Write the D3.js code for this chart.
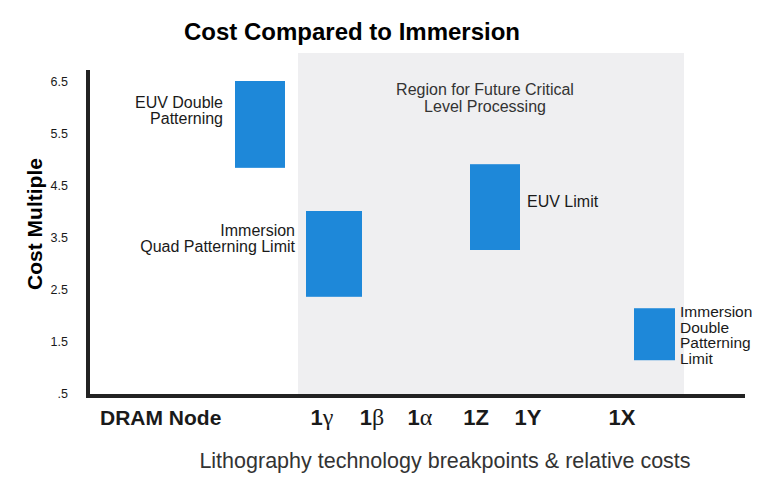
<!DOCTYPE html>
<html lang="en">
<head>
  <meta charset="UTF-8">
  <title>Cost Compared to Immersion</title>
  <style>
    * { margin: 0; padding: 0; }
    body { background: #fff; font-family: "Liberation Sans", Arial, sans-serif; }
    svg text { fill: #1a1a1a; }
  </style>
</head>
<body>
  <svg id="svg"></svg>
  <script src="https://cdnjs.cloudflare.com/ajax/libs/d3/7.8.5/d3.min.js"></script>
  <script>
    // values
    const yTicks = [0.5, 1.5, 2.5, 3.5, 4.5, 5.5, 6.5];
    const nodeLabels = ['1γ', '1β', '1α', '1Z', '1Y', '1X'];
    const nodePos = [4.68, 5.68, 6.64, 7.76, 8.8, 10.68];

    const barNames = ['EUV Double Patterning', 'Immersion Quad Patterning Limit', 'EUV Limit', 'Immersion Double Patterning Limit'];
    const barStart = [2.94, 4.36, 7.64, 10.92];
    const barEnd = [3.94, 5.48, 8.64, 11.74];
    const barLow = [4.83, 2.35, 3.25, 1.13];
    const barHigh = [6.5, 4.0, 4.9, 2.13];

    const regionStart = 4.2, regionEnd = 11.92;

    const width = 777, height = 477;
    const svg = d3.select('#svg').attr('width', width).attr('height', height);

    const x = d3.scaleLinear().domain([0, 11.9]).range([88, 683]);
    const y = d3.scaleLinear().domain([0.5, 6.5]).range([393, 81]);

    // shaded future region
    svg.append('rect')
      .attr('x', x(regionStart))
      .attr('y', 53)
      .attr('width', x(regionEnd) - x(regionStart))
      .attr('height', 396 - 53)
      .attr('fill', '#efeff1');

    svg.append('text')
      .attr('x', 485).attr('y', 95)
      .attr('text-anchor', 'middle')
      .style('font-size', '16px')
      .style('fill', '#333')
      .selectAll('tspan')
      .data(['Region for Future Critical', 'Level Processing'])
      .join('tspan')
      .attr('x', 485)
      .attr('dy', (d, i) => i ? 17 : 0)
      .text(d => d);

    // bars
    svg.append('g')
      .selectAll('rect')
      .data(barNames)
      .join('rect')
      .attr('x', (d, i) => x(barStart[i]))
      .attr('width', (d, i) => x(barEnd[i]) - x(barStart[i]))
      .attr('y', (d, i) => y(barHigh[i]))
      .attr('height', (d, i) => y(barLow[i]) - y(barHigh[i]))
      .attr('fill', '#1e88d9');

    // bar labels
    const labelLines = [
      ['EUV Double', 'Patterning'],
      ['Immersion', 'Quad Patterning Limit'],
      ['EUV Limit'],
      ['Immersion', 'Double', 'Patterning', 'Limit']
    ];
    const labelCfg = [
      { x: 223, y: 108, anchor: 'end', lh: 16, fs: 16 },
      { x: 295, y: 236, anchor: 'end', lh: 16, fs: 16 },
      { x: 527, y: 207, anchor: 'start', lh: 16, fs: 16 },
      { x: 680, y: 317, anchor: 'start', lh: 15.5, fs: 15.5 }
    ];
    labelLines.forEach((lines, i) => {
      const c = labelCfg[i];
      svg.append('text')
        .attr('x', c.x).attr('y', c.y)
        .attr('text-anchor', c.anchor)
        .style('font-size', c.fs + 'px')
        .selectAll('tspan')
        .data(lines)
        .join('tspan')
        .attr('x', c.x)
        .attr('dy', (d, j) => j ? c.lh : 0)
        .text(d => d);
    });

    // y axis
    const yAxis = svg.append('g')
      .attr('transform', 'translate(70,0)')
      .call(d3.axisLeft(y).tickValues(yTicks).tickSize(0)
        .tickFormat(d => d < 1 ? '.5' : d3.format('.1f')(d)));
    yAxis.select('.domain').remove();
    yAxis.selectAll('text')
      .attr('x', -2)
      .style('font-size', '12.5px')
      .style('font-family', '"Liberation Sans", Arial, sans-serif')
      .style('fill', '#1a1a1a');

    // axis lines
    svg.append('path')
      .attr('d', `M88,70 V396 H745`)
      .attr('fill', 'none')
      .attr('stroke', '#222')
      .attr('stroke-width', 4);

    // x node labels
    svg.append('text')
      .attr('x', 100).attr('y', 425)
      .style('font-size', '21px')
      .style('font-weight', 'bold')
      .text('DRAM Node');

    const nodeText = svg.append('g')
      .selectAll('text')
      .data(nodeLabels)
      .join('text')
      .attr('x', (d, i) => x(nodePos[i]))
      .attr('y', 425)
      .attr('text-anchor', 'middle')
      .style('font-size', '22px')
      .style('font-weight', 'bold');
    nodeText.append('tspan').text(d => d[0]);
    nodeText.append('tspan')
      .style('font-family', d => /[A-Z]/.test(d[1]) ? null : '"Liberation Serif", serif')
      .style('font-weight', d => /[A-Z]/.test(d[1]) ? null : 'normal')
      .style('font-size', d => /[A-Z]/.test(d[1]) ? null : '24px')
      .text(d => d[1]);

    // titles
    svg.append('text')
      .attr('x', 352).attr('y', 40)
      .attr('text-anchor', 'middle')
      .style('font-size', '24px')
      .style('font-weight', 'bold')
      .style('fill', '#000')
      .text('Cost Compared to Immersion');

    svg.append('text')
      .attr('transform', 'translate(42,224) rotate(-90)')
      .attr('text-anchor', 'middle')
      .style('font-size', '21px')
      .style('font-weight', 'bold')
      .style('fill', '#000')
      .text('Cost Multiple');

    svg.append('text')
      .attr('x', 445).attr('y', 468)
      .attr('text-anchor', 'middle')
      .style('font-size', '21.5px')
      .style('fill', '#333')
      .text('Lithography technology breakpoints & relative costs');
  </script>
</body>
</html>
